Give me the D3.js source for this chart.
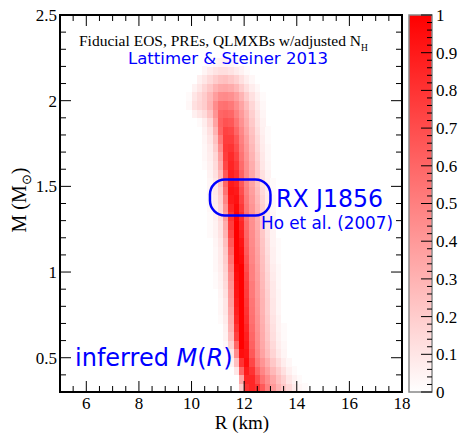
<!DOCTYPE html>
<html><head><meta charset="utf-8">
<script src="https://cdn.jsdelivr.net/npm/d3@7"></script>
<style>body{margin:0;background:#fff}svg{display:block}</style>
</head><body>
<svg id="c" width="459" height="433"></svg>
<script>
// ---- data ----
const rDomain = [5, 18];
const mDomain = [0.3, 2.5];
const rTicks = [6, 8, 10, 12, 14, 16, 18];
const mTicks = [0.5, 1, 1.5, 2, 2.5];
const zTicks = [0, 0.1, 0.2, 0.3, 0.4, 0.5, 0.6, 0.7, 0.8, 0.9, 1];
const zTickLabels = ["0", "0.1", "0.2", "0.3", "0.4", "0.5", "0.6", "0.7", "0.8", "0.9", "1"];
const binR = 0.2, binM = 0.05;
const massRows = [0.30,0.35,0.40,0.45,0.50,0.55,0.60,0.65,0.70,0.75,0.80,0.85,0.90,0.95,1.00,1.05,1.10,1.15,1.20,1.25,1.30,1.35,1.40,1.45,1.50,1.55,1.60,1.65,1.70,1.75,1.80,1.85,1.90,1.95,2.00,2.05,2.10,2.15,2.20];
const rowStart = [11.8,11.8,11.6,11.4,11.4,11.2,11.2,11.2,11.0,11.0,11.0,11.0,10.8,10.8,10.8,10.8,10.8,10.8,10.6,10.6,10.6,10.6,10.6,10.6,10.6,10.6,10.4,10.4,10.4,10.4,10.4,10.2,10.0,9.8,9.8,10.0,10.2,10.4,10.6];
const rowValues = [
 [0.2,0.8,0.85,0.8,0.65,0.5,0.4,0.3,0.22,0.15,0.08,0.04,0.02],
 [0.35,0.85,0.85,0.7,0.55,0.45,0.35,0.25,0.18,0.1,0.05,0.02],
 [0.1,0.6,0.9,0.8,0.6,0.48,0.38,0.28,0.2,0.12,0.06,0.02],
 [0.05,0.25,0.8,0.95,0.72,0.52,0.42,0.32,0.22,0.14,0.07,0.03],
 [0.1,0.45,0.95,0.92,0.65,0.48,0.36,0.26,0.17,0.09,0.04],
 [0.03,0.18,0.6,1.0,0.9,0.62,0.46,0.34,0.24,0.15,0.07,0.03],
 [0.05,0.25,0.75,1.0,0.88,0.6,0.45,0.33,0.22,0.13,0.06,0.02],
 [0.06,0.3,0.8,1.0,0.85,0.58,0.44,0.32,0.21,0.12,0.05,0.02],
 [0.02,0.08,0.32,0.85,1.0,0.82,0.56,0.43,0.31,0.2,0.11,0.05],
 [0.03,0.1,0.35,0.88,1.0,0.8,0.55,0.42,0.3,0.19,0.1,0.04],
 [0.03,0.1,0.38,0.9,1.0,0.78,0.54,0.41,0.3,0.19,0.1,0.04],
 [0.04,0.12,0.4,0.92,1.0,0.76,0.52,0.4,0.29,0.18,0.09,0.04],
 [0.02,0.05,0.14,0.42,0.93,1.0,0.75,0.52,0.4,0.28,0.17,0.09,0.03],
 [0.02,0.06,0.16,0.45,0.95,1.0,0.73,0.5,0.39,0.27,0.16,0.08,0.03],
 [0.03,0.07,0.18,0.5,0.97,1.0,0.7,0.5,0.38,0.26,0.15,0.07,0.03],
 [0.03,0.08,0.2,0.55,1.0,0.97,0.67,0.48,0.37,0.25,0.14,0.06,0.02],
 [0.03,0.08,0.22,0.6,1.0,0.95,0.64,0.47,0.36,0.24,0.13,0.06,0.02],
 [0.04,0.09,0.25,0.65,1.0,0.92,0.62,0.46,0.35,0.23,0.12,0.05,0.02],
 [0.02,0.05,0.11,0.3,0.72,1.0,0.88,0.6,0.45,0.34,0.22,0.11,0.05],
 [0.02,0.05,0.12,0.33,0.76,1.0,0.85,0.58,0.44,0.33,0.21,0.1,0.04],
 [0.02,0.06,0.14,0.38,0.8,0.98,0.82,0.56,0.43,0.32,0.2,0.1,0.04],
 [0.03,0.07,0.16,0.42,0.85,0.96,0.78,0.54,0.42,0.3,0.19,0.09,0.03],
 [0.03,0.08,0.18,0.48,0.9,0.93,0.74,0.52,0.4,0.28,0.17,0.08,0.03],
 [0.04,0.09,0.2,0.55,0.92,0.9,0.7,0.5,0.38,0.26,0.15,0.07,0.02],
 [0.04,0.1,0.24,0.6,0.9,0.86,0.66,0.48,0.36,0.24,0.13,0.06,0.02],
 [0.05,0.12,0.28,0.66,0.88,0.82,0.62,0.46,0.34,0.22,0.12,0.05],
 [0.02,0.06,0.14,0.33,0.72,0.86,0.78,0.58,0.44,0.32,0.2,0.1,0.04],
 [0.03,0.07,0.16,0.38,0.76,0.84,0.74,0.55,0.42,0.3,0.18,0.09,0.03],
 [0.03,0.08,0.2,0.45,0.78,0.8,0.7,0.52,0.4,0.28,0.16,0.08,0.03],
 [0.04,0.1,0.24,0.52,0.76,0.76,0.66,0.5,0.38,0.26,0.15,0.07,0.02],
 [0.05,0.12,0.3,0.6,0.74,0.72,0.6,0.47,0.35,0.24,0.13,0.06,0.02],
 [0.02,0.07,0.16,0.36,0.62,0.68,0.66,0.55,0.43,0.32,0.21,0.11,0.05],
 [0.06,0.1,0.14,0.24,0.42,0.6,0.62,0.6,0.5,0.4,0.3,0.19,0.1,0.04],
 [0.03,0.12,0.16,0.2,0.3,0.45,0.55,0.56,0.53,0.45,0.36,0.26,0.16,0.08,0.03],
 [0.02,0.1,0.15,0.2,0.28,0.38,0.45,0.46,0.44,0.38,0.3,0.2,0.12,0.06,0.02],
 [0.05,0.1,0.16,0.22,0.3,0.34,0.35,0.33,0.28,0.2,0.13,0.07,0.03],
 [0.06,0.1,0.15,0.2,0.24,0.25,0.22,0.18,0.12,0.07,0.03],
 [0.04,0.08,0.11,0.13,0.13,0.11,0.08,0.05,0.02],
 [0.02,0.04,0.05,0.05,0.04,0.02]
];
// RX J1856 region (Ho et al. 2007), in R (km) and M (Msun)
const boxR = [10.7, 13.0];
const boxM = [1.33, 1.54];

// ---- layout ----
const L = 60, Rt = 402, T = 15, B = 392;
const svg = d3.select("#c");
const x = d3.scaleLinear().domain(rDomain).range([L, Rt]);
const y = d3.scaleLinear().domain(mDomain).range([B, T]);
const z = d3.scaleLinear().domain([0, 1]).range(["#ffffff", "#ff0000"]).interpolate(d3.interpolateRgb);

svg.append("defs").append("clipPath").attr("id", "clip")
  .append("rect").attr("x", L).attr("y", T).attr("width", Rt - L).attr("height", B - T);

// cells
const cells = [];
massRows.forEach((m, i) => {
  rowValues[i].forEach((v, j) => {
    cells.push({ r: rowStart[i] + j * binR, m: m, v: v });
  });
});
svg.append("g").attr("clip-path", "url(#clip)").attr("shape-rendering", "crispEdges")
  .selectAll("rect").data(cells.filter(d => d.v > 0)).join("rect")
  .attr("x", d => x(d.r)).attr("y", d => y(d.m + binM))
  .attr("width", d => x(d.r + binR) - x(d.r) + 0.3)
  .attr("height", d => y(d.m) - y(d.m + binM) + 0.3)
  .attr("fill", d => z(d.v));

// ticks
const tg = svg.append("g").attr("stroke", "#000").attr("stroke-width", 1);
const xMinor = d3.range(5.5, 18, 0.5).filter(v => !rTicks.includes(v));
const yMinor = d3.range(0.4, 2.5, 0.1).map(v => +v.toFixed(2)).filter(v => !mTicks.includes(v));
function vt(len, list) {
  list.forEach(v => {
    tg.append("line").attr("x1", x(v)).attr("x2", x(v)).attr("y1", B).attr("y2", B - len);
    tg.append("line").attr("x1", x(v)).attr("x2", x(v)).attr("y1", T).attr("y2", T + len);
  });
}
vt(11, rTicks); vt(6, xMinor);
function ht(len, list) {
  list.forEach(v => {
    tg.append("line").attr("y1", y(v)).attr("y2", y(v)).attr("x1", L).attr("x2", L + len);
    tg.append("line").attr("y1", y(v)).attr("y2", y(v)).attr("x1", Rt).attr("x2", Rt - len);
  });
}
ht(11, mTicks); ht(6, yMinor);

// frame
svg.append("rect").attr("x", L).attr("y", T).attr("width", Rt - L).attr("height", B - T)
  .attr("fill", "none").attr("stroke", "#000").attr("stroke-width", 2);

const serif = "'Liberation Serif','Times New Roman',serif";
const sans = "'DejaVu Sans',sans-serif";

// tick labels
svg.append("g").selectAll("text").data(rTicks).join("text")
  .attr("x", d => x(d)).attr("y", 409).attr("text-anchor", "middle")
  .attr("font-family", serif).attr("font-size", 17).text(d => d);
svg.append("g").selectAll("text").data(mTicks).join("text")
  .attr("x", 57).attr("y", d => y(d)).attr("dy", "0.35em").attr("text-anchor", "end")
  .attr("font-family", serif).attr("font-size", 17).text(d => d);

// axis titles
svg.append("text").attr("x", 242).attr("y", 429).attr("text-anchor", "middle")
  .attr("font-family", serif).attr("font-size", 19).text("R (km)");
const yl = svg.append("text").attr("transform", "translate(26,200) rotate(-90)")
  .attr("text-anchor", "middle").attr("font-family", serif).attr("font-size", 20);
yl.append("tspan").text("M (M");
yl.append("tspan").attr("dy", 5).attr("font-size", 13).text("\u2299");
yl.append("tspan").attr("dy", -5).text(")");

// title
const t1 = svg.append("text").attr("x", 79).attr("y", 45.5).attr("font-family", serif).attr("font-size", 15.5);
t1.append("tspan").text("Fiducial EOS, PREs, QLMXBs w/adjusted N");
t1.append("tspan").attr("dy", 5).attr("font-size", 9.5).text("H");
svg.append("text").attr("x", 228).attr("y", 63.5).attr("text-anchor", "middle")
  .attr("font-family", sans).attr("font-size", 15).attr("fill", "#0000ff")
  .attr("textLength", 200).attr("lengthAdjust", "spacingAndGlyphs").text("Lattimer & Steiner 2013");

// RX J1856 box
svg.append("rect").attr("x", x(boxR[0])).attr("y", y(boxM[1]))
  .attr("width", x(boxR[1]) - x(boxR[0])).attr("height", y(boxM[0]) - y(boxM[1]))
  .attr("rx", 15).attr("ry", 15).attr("fill", "none").attr("stroke", "#0000ff").attr("stroke-width", 2.5);
svg.append("text").attr("x", 276).attr("y", 206.5).attr("font-family", sans).attr("font-size", 25)
  .attr("fill", "#0000ff").attr("textLength", 107).attr("lengthAdjust", "spacingAndGlyphs").text("RX J1856");
svg.append("text").attr("x", 261).attr("y", 229).attr("font-family", sans).attr("font-size", 17)
  .attr("fill", "#0000ff").attr("textLength", 132).attr("lengthAdjust", "spacingAndGlyphs").text("Ho et al. (2007)");
const inf = svg.append("text").attr("x", 75).attr("y", 366).attr("font-family", sans).attr("font-size", 24).attr("fill", "#0000ff");
inf.append("tspan").text("inferred ");
inf.append("tspan").attr("font-style", "italic").text("M");
inf.append("tspan").text("(");
inf.append("tspan").attr("font-style", "italic").text("R");
inf.append("tspan").text(")");

// colour bar
const cbL = 409, cbR = 432;
const cz = d3.scaleLinear().domain([0, 1]).range([B, T]);
const grad = svg.select("defs").append("linearGradient").attr("id", "cg")
  .attr("x1", 0).attr("y1", 1).attr("x2", 0).attr("y2", 0);
grad.append("stop").attr("offset", 0).attr("stop-color", z(0));
grad.append("stop").attr("offset", 1).attr("stop-color", z(1));
svg.append("rect").attr("x", cbL).attr("y", T).attr("width", cbR - cbL).attr("height", B - T)
  .attr("fill", "url(#cg)").attr("stroke", "#888").attr("stroke-width", 1.5);
const cg = svg.append("g").attr("stroke", "#000").attr("stroke-width", 1);
d3.range(0, 1.001, 0.02).forEach(v => {
  const major = zTicks.some(t => Math.abs(t - v) < 1e-6);
  cg.append("line").attr("x1", cbR).attr("x2", cbR - (major ? 11 : 5))
    .attr("y1", cz(v)).attr("y2", cz(v));
});
svg.append("g").selectAll("text").data(zTicks).join("text")
  .attr("x", 436).attr("y", d => cz(d)).attr("dy", "0.35em")
  .attr("font-family", serif).attr("font-size", 17).text((d, i) => zTickLabels[i]);
</script>
</body></html>
